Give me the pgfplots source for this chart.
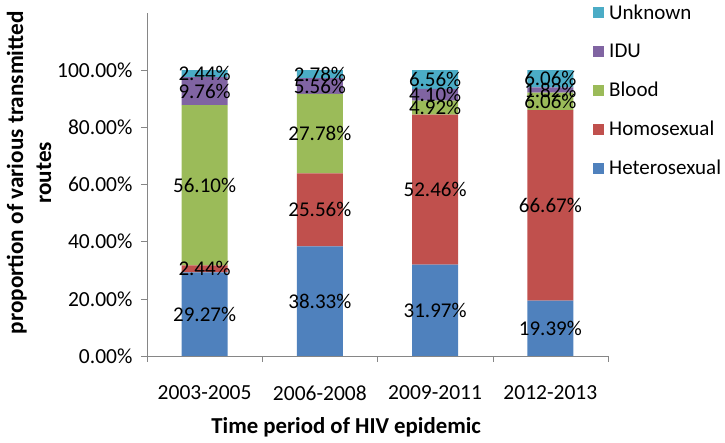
\documentclass[border=0pt]{standalone}
\usepackage{fontspec}
\setmainfont{Carlito}
\usepackage{pgfplots}
\pgfplotsset{compat=1.18}
\definecolor{cHet}{HTML}{4F81BD}
\definecolor{cHomo}{HTML}{C0504D}
\definecolor{cBlood}{HTML}{9BBB59}
\definecolor{cIDU}{HTML}{8064A2}
\definecolor{cUnk}{HTML}{4BACC6}
\definecolor{axisgray}{HTML}{868686}
\begin{document}
\begin{tikzpicture}
\path[use as bounding box] (-147pt,-87pt) rectangle (578pt,356pt);
\begin{axis}[
  at={(0pt,0pt)}, anchor=south west,
  scale only axis, width=461pt, height=343pt,
  ybar stacked, bar width=46pt,
  xmin=-0.5, xmax=3.5, ymin=0, ymax=120,
  axis x line*=bottom, axis y line*=left,
  axis line style={draw=axisgray, -},
  tick align=outside,
  major tick length=6pt,
  tick style={draw=axisgray, thin},
  xtick={-0.5,0.5,1.5,2.5,3.5},
  xticklabels={},
  extra x ticks={0,1,2,3},
  extra x tick labels={2003-2005,2006-2008,2009-2011,2012-2013},
  extra x tick style={major tick length=0pt, tick label style={yshift=-26pt}},
  ytick={0,20,40,60,80,100},
  yticklabels={0.00\%,20.00\%,40.00\%,60.00\%,80.00\%,100.00\%},
  yticklabel style={xshift=-5pt},
  tick label style={font=\fontsize{21.5}{26}\selectfont, text=black},
  xlabel={Time period of HIV epidemic},
  xlabel style={at={(axis description cs:0.432,-0.207)}, anchor=center, font=\bfseries\fontsize{22.8}{27}\selectfont},
  ylabel={proportion of various transmitted\\routes},
  ylabel style={at={(axis description cs:-0.256,0.534)}, anchor=center, align=center, font=\bfseries\fontsize{23.2}{28}\selectfont},
  point meta=rawy,
  nodes near coords={\pgfmathprintnumber[fixed,fixed zerofill,precision=2,assume math mode=true]{\pgfplotspointmeta}\%},
  every node near coord/.append style={anchor=center, font=\fontsize{21}{25}\selectfont, text=black, inner sep=0pt},
  legend style={draw=none, fill=none, at={(rel axis cs:0.9675,1.03)}, anchor=north west, legend cell align=left, font=\fontsize{21}{25}\selectfont, row sep=19pt, inner sep=0pt, nodes={inner xsep=5pt}},
  legend image code/.code={\fill[#1] (0pt,-5.5pt) rectangle (11pt,5.5pt);},
  reverse legend,
]
\addplot[fill=cHet, draw=none] coordinates {(0,29.27) (1,38.33) (2,31.97) (3,19.39)};
\addplot[fill=cHomo, draw=none] coordinates {(0,2.44) (1,25.56) (2,52.46) (3,66.67)};
\addplot[fill=cBlood, draw=none] coordinates {(0,56.10) (1,27.78) (2,4.92) (3,6.06)};
\addplot[fill=cIDU, draw=none] coordinates {(0,9.76) (1,5.56) (2,4.10) (3,1.82)};
\addplot[fill=cUnk, draw=none] coordinates {(0,2.44) (1,2.78) (2,6.56) (3,6.06)};
\legend{Heterosexual,Homosexual,Blood,IDU,Unknown}
\end{axis}
\end{tikzpicture}
\end{document}
